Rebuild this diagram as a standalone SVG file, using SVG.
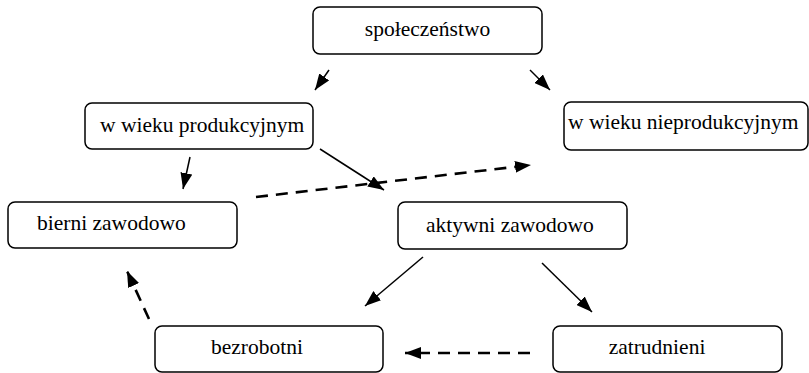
<svg xmlns="http://www.w3.org/2000/svg" width="809" height="373" viewBox="0 0 809 373">
<defs>
<style>
.box{fill:#fff;stroke:#000;stroke-width:1.5}
.s{stroke:#000;stroke-width:1.5;fill:none}
.d{stroke:#000;stroke-width:2.6;fill:none;stroke-dasharray:12 8}
</style>
<marker id="a" viewBox="0 0 16 12" refX="16" refY="6" markerWidth="16" markerHeight="12" markerUnits="userSpaceOnUse" orient="auto"><path d="M0,0 L16,6 L0,12 Z" fill="#000"/></marker>
</defs>
<rect width="809" height="373" fill="#fff"/>
<g id="connectors">
<line class="s" x1="329" y1="70" x2="315" y2="90" marker-end="url(#a)"/>
<line class="s" x1="530" y1="70" x2="550" y2="90" marker-end="url(#a)"/>
<line class="s" x1="190" y1="157" x2="183" y2="189" marker-end="url(#a)"/>
<line class="s" x1="320" y1="149" x2="384" y2="190" marker-end="url(#a)"/>
<line class="d" x1="256" y1="197" x2="531" y2="165" marker-end="url(#a)"/>
<line class="s" x1="423" y1="257" x2="365" y2="306" marker-end="url(#a)"/>
<line class="s" x1="542" y1="263" x2="592" y2="312" marker-end="url(#a)"/>
<line class="d" x1="530" y1="353" x2="405" y2="353" marker-end="url(#a)"/>
<line class="d" x1="149" y1="319" x2="127" y2="271" marker-end="url(#a)"/>
</g>
<g font-family="'Liberation Serif', 'Times New Roman', 'DejaVu Serif', serif" font-size="21.5" fill="#000">
<g id="spoleczenstwo"><rect class="box" x="313" y="7" width="229" height="47" rx="7"/><text x="427.5" y="36" text-anchor="middle">społeczeństwo</text></g>
<g id="produkcyjnym"><rect class="box" x="85" y="103" width="228" height="46" rx="7"/><text x="100" y="132">w wieku produkcyjnym</text></g>
<g id="nieprodukcyjnym"><rect class="box" x="564" y="102" width="244" height="48" rx="7"/><text x="568" y="129">w wieku nieprodukcyjnym</text></g>
<g id="bierni"><rect class="box" x="8" y="202" width="229" height="46" rx="7"/><text x="37" y="229.5">bierni zawodowo</text></g>
<g id="aktywni"><rect class="box" x="398" y="202" width="229" height="47" rx="7"/><text x="426" y="232">aktywni zawodowo</text></g>
<g id="bezrobotni"><rect class="box" x="155" y="326" width="228" height="46" rx="7"/><text x="257" y="353.5" text-anchor="middle">bezrobotni</text></g>
<g id="zatrudnieni"><rect class="box" x="553" y="326" width="229" height="46" rx="7"/><text x="657" y="353.5" text-anchor="middle">zatrudnieni</text></g>
</g>
</svg>
